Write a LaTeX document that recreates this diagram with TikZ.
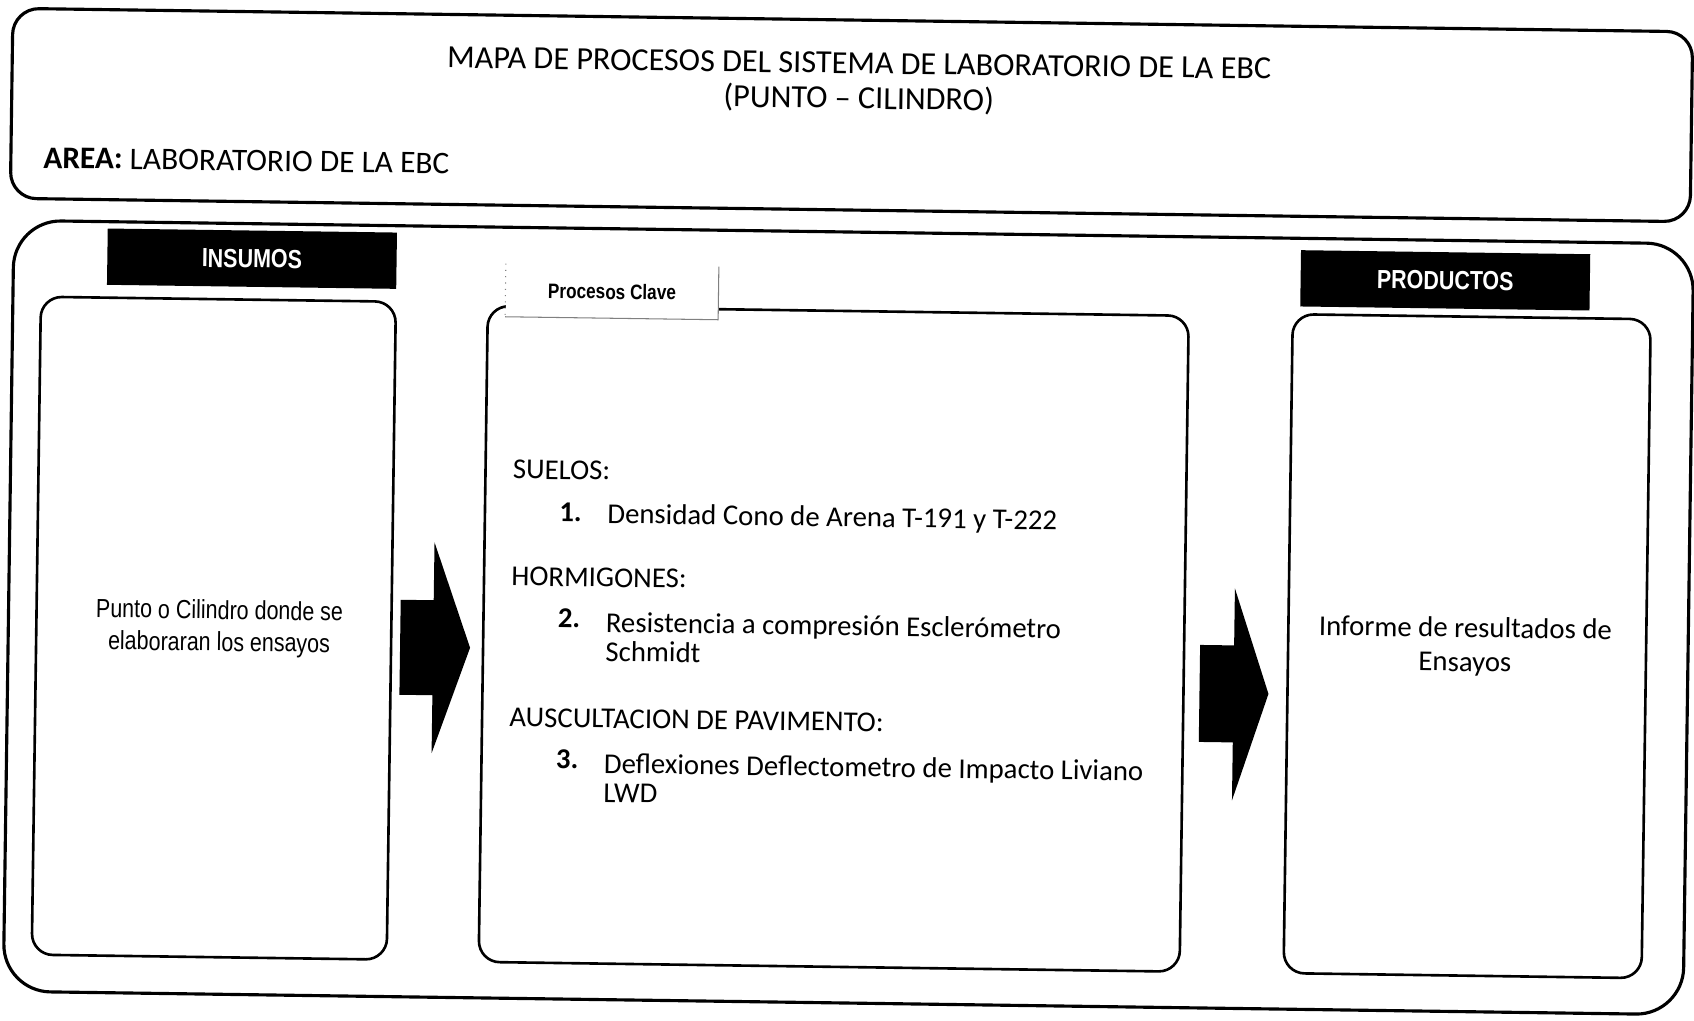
\documentclass[tikz,border=0pt]{standalone}
\usepackage{fontspec}
\setmainfont{Carlito}
\newfontfamily\narrowfont[FakeStretch=0.82]{Liberation Sans}

\tikzset{
  outerframe/.style={draw, line width=1.2pt},
  panel/.style={draw, line width=1pt, rounded corners=8pt},
  tagbox/.style={fill=black, text=white, minimum width=110.5pt, minimum height=21.5pt,
    font=\narrowfont\bfseries\fontsize{10}{12}\selectfont},
  tabbox/.style={fill=white, minimum width=81pt, minimum height=19.9pt,
    font=\narrowfont\bfseries\fontsize{8}{10}\selectfont},
  grouphead/.style={anchor=mid west, inner sep=0pt, font=\fontsize{11}{13}\selectfont},
  entry/.style={anchor=west, inner sep=0pt, align=left, font=\fontsize{11}{11.1}\selectfont},
  blockarrow/.style={fill=black},
}

\begin{document}
\begin{tikzpicture}[x=0.382pt, y=-0.382pt]
\useasboundingbox (0,0) rectangle (1694,1021);
\begin{scope}[rotate around={-0.8:(847,510)}, transform shape]
% encabezado
\draw[outerframe, rounded corners=10pt] (6,20) rectangle (1686,210);
\node[font=\fontsize{12.3}{14}\selectfont] (title) at (853,63) {MAPA DE PROCESOS DEL SISTEMA DE LABORATORIO DE LA EBC};
\node[font=\fontsize{12.3}{14}\selectfont] (subtitle) at (853,99) {(PUNTO -- CILINDRO)};
\node[anchor=mid west, inner sep=0pt, font=\fontsize{12}{14}\selectfont] (area) at (38,173) {\textbf{AREA:} LABORATORIO DE LA EBC};

% cuerpo
\draw[outerframe, rounded corners=18pt] (10,232) rectangle (1690,1003);

\node[tagbox] (insumos) at (248.5,267) {INSUMOS};
\node[tagbox] (productos) at (1442,272) {PRODUCTOS};

\draw[panel] (38,308) rectangle (393,966);
\draw[panel] (485,311) rectangle (1186,967);
\draw[panel] (1290,308) rectangle (1648,967);

\node[tabbox] (tab) at (609,295) {Procesos Clave};
\draw[line width=0.4pt, gray] (tab.south west) -- (tab.south east) -- (tab.north east);
\draw[line width=0.4pt, gray, dotted] (tab.north west) -- (tab.south west);

\fill[blockarrow] (402,606) -- (435,606) -- (435,548) -- (472,653) -- (435,759) -- (435,701) -- (402,701) -- cycle;
\fill[blockarrow] (1202,640) -- (1236,640) -- (1236,583) -- (1271,688) -- (1236,795) -- (1236,737) -- (1202,737) -- cycle;

\node[align=center, font=\narrowfont\fontsize{10}{12.2}\selectfont] (punto) at (221,637) {Punto o Cilindro donde se\\elaboraran los ensayos};
\node[align=center, font=\fontsize{11}{13}\selectfont] (informe) at (1467,638) {Informe de resultados de\\Ensayos};

% procesos clave
\node[grouphead] (suelos) at (512,477) {SUELOS:};
\node[grouphead, font=\bfseries\fontsize{11}{13}\selectfont] (n1) at (559,519) {1.};
\node[entry] (t1) at (607,519) {Densidad Cono de Arena T-191 y T-222};
\node[grouphead] (hormigones) at (512,584) {HORMIGONES:};
\node[grouphead, font=\bfseries\fontsize{11}{13}\selectfont] (n2) at (559,625) {2.};
\node[entry] (t2) at (607,640) {Resistencia a compresión Esclerómetro\\Schmidt};
\node[grouphead] (auscultacion) at (512,725) {AUSCULTACION DE PAVIMENTO:};
\node[grouphead, font=\bfseries\fontsize{11}{13}\selectfont] (n3) at (559,766) {3.};
\node[entry] (t3) at (607,781) {Deflexiones Deflectometro de Impacto Liviano\\LWD};
\end{scope}
\end{tikzpicture}
\end{document}
